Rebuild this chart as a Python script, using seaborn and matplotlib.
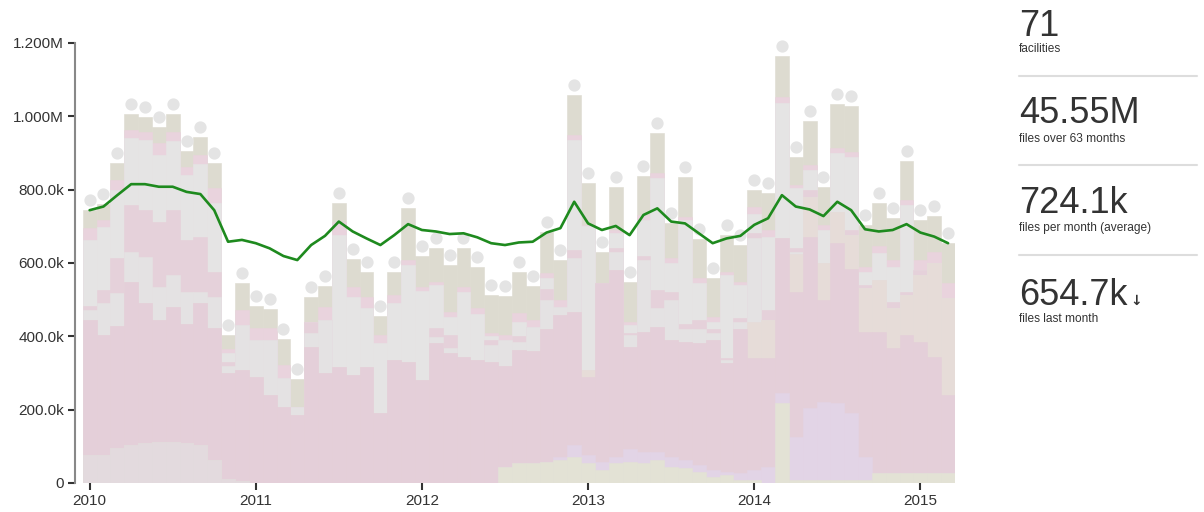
import matplotlib
matplotlib.use("Agg")
import matplotlib.pyplot as plt
from matplotlib.transforms import offset_copy
import numpy as np
import pandas as pd
import seaborn as sns

# monthly file counts (thousands), Jan 2010 - Mar 2015
months = pd.date_range("2010-01-01", "2015-03-01", freq="MS")

# cumulative top of each stacked facility layer, bottom layer first
mauve_top = [76, 76, 95, 104, 110, 112, 112, 108, 104, 63, 10, 5] + [0] * 51
sand_top = [76, 76, 95, 104, 110, 112, 112, 108, 104, 63, 10, 5] + [0] * 18 + [
    45, 54, 54, 58, 63, 72, 54, 35, 54, 58, 54, 63, 45, 40, 31, 17, 22, 8, 8, 0,
    218, 8, 8, 8, 8, 8, 8, 26, 26, 26, 26, 26, 26]
lav_top = [76, 76, 95, 104, 110, 112, 112, 108, 104, 63, 10, 5] + [0] * 18 + [
    45, 54, 54, 58, 72, 104, 77, 58, 72, 94, 85, 85, 72, 63, 49, 35, 31, 26, 35, 44,
    245, 126, 204, 222, 217, 190, 72, 26, 26, 26, 26, 26, 26]
pink_top = [445, 404, 429, 549, 490, 445, 481, 435, 490, 422,
            300, 308, 290, 240, 208, 185, 372, 300, 317, 295,
            317, 190, 335, 330, 280, 381, 354, 344, 335, 330,
            320, 363, 360, 420, 458, 467, 290, 545, 581, 372,
            413, 426, 390, 385, 381, 390, 326, 420, 340, 340,
            667, 522, 672, 499, 654, 585, 413, 413, 367, 404,
            385, 345, 240]
beige_top = [445, 404, 429, 549, 490, 445, 481, 435, 490, 422,
             300, 308, 290, 240, 208, 185, 372, 300, 317, 295,
             317, 190, 335, 330, 280, 381, 354, 344, 335, 330,
             320, 363, 360, 420, 458, 467, 308, 545, 581, 372,
             413, 426, 390, 385, 381, 390, 326, 420, 440, 445,
             667, 625, 781, 600, 740, 676, 531, 554, 476, 513,
             567, 599, 504]
grey1_top = [472, 491, 518, 631, 617, 535, 567, 522, 520, 508,
             320, 431, 390, 390, 286, 208, 410, 445, 317, 295,
             317, 190, 335, 330, 280, 399, 368, 344, 335, 376,
             390, 385, 426, 500, 480, 613, 308, 545, 631, 404,
             608, 477, 500, 420, 420, 410, 335, 440, 667, 445,
             667, 631, 781, 600, 740, 676, 531, 554, 476, 513,
             567, 599, 504]
pink2_top = [482, 526, 614, 758, 744, 713, 744, 663, 672, 576,
             330, 431, 390, 390, 286, 208, 440, 445, 317, 295,
             317, 190, 335, 330, 280, 422, 404, 344, 335, 390,
             390, 400, 426, 530, 480, 635, 308, 545, 640, 410,
             620, 527, 520, 435, 445, 420, 340, 450, 681, 472,
             667, 640, 799, 600, 740, 690, 540, 554, 495, 522,
             581, 599, 504]
grey2_top = [663, 699, 799, 940, 935, 894, 933, 840, 870, 763,
             355, 431, 390, 390, 286, 208, 440, 445, 676, 508,
             476, 381, 490, 594, 525, 540, 454, 522, 460, 400,
             390, 440, 426, 558, 480, 935, 700, 545, 681, 431,
             717, 831, 599, 717, 545, 440, 567, 540, 735, 672,
             1035, 804, 854, 690, 899, 890, 576, 626, 590, 758,
             581, 599, 504]
rose_top = [695, 717, 826, 962, 957, 927, 957, 862, 894, 804,
            365, 472, 422, 422, 322, 208, 440, 481, 713, 535,
            508, 404, 513, 608, 535, 549, 467, 535, 476, 408,
            404, 463, 445, 572, 499, 949, 704, 545, 690, 440,
            731, 845, 613, 726, 558, 454, 576, 549, 754, 690,
            1053, 813, 867, 704, 913, 903, 590, 645, 608, 772,
            608, 631, 545]
total = [744, 760, 872, 1006, 999, 970, 1005, 906, 943, 872,
         404, 545, 483, 475, 392, 284, 508, 538, 764, 610,
         575, 456, 575, 751, 619, 641, 594, 642, 590, 513,
         511, 575, 538, 684, 607, 1059, 817, 630, 807, 548,
         836, 954, 709, 835, 665, 558, 677, 649, 799, 790,
         1165, 890, 986, 808, 1034, 1027, 704, 763, 722, 879,
         717, 728, 654]
# smoothed trend (green line)
trend = [744, 754, 785, 815, 815, 808, 808, 794, 788, 744,
         658, 663, 654, 640, 619, 608, 649, 674, 713, 686,
         667, 649, 676, 706, 690, 686, 679, 681, 670, 654,
         649, 656, 658, 683, 695, 767, 708, 690, 701, 676,
         731, 749, 713, 708, 681, 654, 667, 674, 704, 722,
         785, 754, 746, 728, 767, 744, 692, 686, 690, 706,
         683, 672, 654]

year_pos = [0, 12, 24, 36, 48, 60]
year_labels = ["2010", "2011", "2012", "2013", "2014", "2015"]
ytick_vals = [0, 200, 400, 600, 800, 1000, 1200]
ytick_labels = ["0", "200.0k", "400.0k", "600.0k", "800.0k", "1.000M", "1.200M"]

stat_values = ["71", "45.55M", "724.1k", "654.7k"]
stat_labels = ["facilities", "files over 63 months", "files per month (average)", "files last month"]

sns.set_theme(style="white")
plt.rcParams["font.family"] = ["Liberation Sans", "DejaVu Sans"]

idx = np.arange(len(months))

fig = plt.figure(figsize=(12.04, 5.12), dpi=100)
ax = fig.add_axes([75 / 1204, 29 / 512, 880 / 1204, 440 / 512])

# draw tallest first so each lower layer covers the one above it
layers = [
    (total, "#dddbd0"),
    (rose_top, "#e9d3dd"),
    (grey2_top, "#e5e4e4"),
    (pink2_top, "#e5d1da"),
    (grey1_top, "#e4e2e3"),
    (beige_top, "#e6dcd8"),
    (pink_top, "#e4cfd9"),
    (lav_top, "#e2d4e6"),
    (sand_top, "#e3e2d5"),
    (mauve_top, "#e3dade"),
]
for tops, col in layers:
    sns.barplot(x=idx, y=tops, color=col, width=1.0, saturation=1, native_scale=True,
                errorbar=None, edgecolor=col, linewidth=0.4, orient="x", ax=ax)

# total markers sit just above each bar
dot_tr = offset_copy(ax.transData, fig=fig, x=0, y=10, units="dots")
sns.scatterplot(x=idx, y=total, color="#e4e4e4", s=78, linewidth=0, ax=ax,
                transform=dot_tr, clip_on=False, zorder=3, legend=False)

sns.lineplot(x=idx, y=trend, color="#1e8a1e", linewidth=1.9, ax=ax, zorder=4)

ax.set_xlim(-1.055, 62.5)
ax.set_ylim(0, 1200)
ax.set_xticks(year_pos)
ax.set_xticklabels(year_labels)
ax.set_yticks(ytick_vals)
ax.set_yticklabels(ytick_labels)
ax.set_xlabel("")
ax.set_ylabel("")
for s in ["top", "right", "bottom"]:
    ax.spines[s].set_visible(False)
ax.spines["left"].set_color("#888888")
ax.spines["left"].set_linewidth(1.5)
ax.tick_params(axis="both", which="major", direction="out", length=5, width=1.5,
               color="#333333", labelsize=11, labelcolor="#333333", pad=3,
               left=True, bottom=True)
ax.grid(False)

# summary panel on the right
x0 = 1019 / 1204
num_base = [36, 123, 213, 305]
lab_base = [52, 142, 231, 322]
for val, lab, nb, lb in zip(stat_values, stat_labels, num_base, lab_base):
    fig.text(x0, 1 - nb / 512, val, fontsize=26, color="#333333", va="baseline", ha="left")
    fig.text(x0, 1 - lb / 512, lab, fontsize=8.6, color="#333333", va="baseline", ha="left")
for ly in [76, 165, 255]:
    fig.add_artist(plt.Line2D([x0, 1197 / 1204], [1 - ly / 512, 1 - ly / 512],
                              transform=fig.transFigure, color="#dddddd", linewidth=1.5))

fig.canvas.draw()
last = fig.texts[-2]
bb = last.get_window_extent()
fig.text((bb.x1 + 3) / 1204, 1 - 305 / 512, "\u2193", fontsize=10, fontweight="bold",
         color="#333333", va="baseline", ha="left", family=["DejaVu Sans"])

fig.savefig("out.png", dpi=100)
